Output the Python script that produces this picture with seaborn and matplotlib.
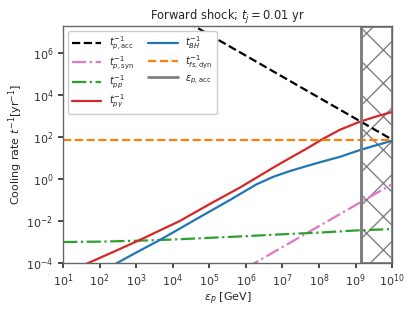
import numpy as np
import pandas as pd
import matplotlib
matplotlib.use("Agg")
import matplotlib.pyplot as plt
import seaborn as sns

# Values (log10 of energy in GeV, log10 of rate in 1/yr)
acc_logE = [1.0, 10.0]
acc_logt = [10.88, 1.88]

syn_logE = [6.0, 10.0]
syn_logt = [-4.24, -0.24]

pp_logE = [1, 2, 3, 4, 5, 6, 7, 8, 9, 10]
pp_logt = [-3.0, -2.98, -2.94, -2.88, -2.80, -2.72, -2.63, -2.55, -2.45, -2.38]

pg_logE = [1.5, 1.69, 2.4, 3.1, 4.2, 5.0, 5.84, 6.3, 6.75, 7.2, 7.66, 8.11, 8.57, 9.11, 9.5, 10]
pg_logt = [-4.15, -4.0, -3.45, -2.90, -1.99, -1.2, -0.40, 0.08, 0.55, 1.0, 1.45, 1.92, 2.35, 2.73, 2.95, 3.2]

bh_logE = [2.3, 3.0, 3.65, 4.2, 4.74, 5.56, 5.84, 6.29, 6.75, 7.2, 7.66, 8.1, 8.57, 9.11, 9.5, 10]
bh_logt = [-4.17, -3.5, -2.90, -2.35, -1.81, -1.0, -0.71, -0.25, 0.11, 0.38, 0.62, 0.84, 1.06, 1.38, 1.58, 1.83]

dyn_logE = [1.0, 10.0]
dyn_logt = [1.86, 1.86]

e_acc = 1.4e9

sns.set_theme(style="ticks")
fs = 8
plt.rcParams.update({
    "font.family": ["DejaVu Sans"],
    "font.size": fs,
    "axes.titlesize": 8.3,
    "axes.labelsize": fs,
    "xtick.labelsize": fs,
    "ytick.labelsize": fs,
    "legend.fontsize": 7,
    "axes.edgecolor": "#666666",
    "axes.linewidth": 1.0,
    "xtick.color": "#333333",
    "ytick.color": "#333333",
    "xtick.major.size": 3.5,
    "ytick.major.size": 3.5,
})


def to_df(logE, logt):
    return pd.DataFrame({"E": 10 ** np.array(logE, dtype=float),
                         "t": 10 ** np.array(logt, dtype=float)})


fig = plt.figure(figsize=(4.15, 3.12), dpi=100)
ax = fig.add_axes([0.152, 0.157, 0.793, 0.760])

lw = 1.6
sns.lineplot(data=to_df(acc_logE, acc_logt), x="E", y="t", ax=ax, color="black",
             linestyle="--", lw=lw, label=r"$t^{-1}_{p,\rm acc}$")
sns.lineplot(data=to_df(syn_logE, syn_logt), x="E", y="t", ax=ax, color="tab:pink",
             linestyle="-.", lw=lw, label=r"$t^{-1}_{p,\rm syn}$")
sns.lineplot(data=to_df(pp_logE, pp_logt), x="E", y="t", ax=ax, color="tab:green",
             linestyle="-.", lw=lw, label=r"$t^{-1}_{pp}$")
sns.lineplot(data=to_df(pg_logE, pg_logt), x="E", y="t", ax=ax, color="tab:red",
             linestyle="-", lw=lw, label=r"$t^{-1}_{p\gamma}$")
sns.lineplot(data=to_df(bh_logE, bh_logt), x="E", y="t", ax=ax, color="tab:blue",
             linestyle="-", lw=lw, label=r"$t^{-1}_{BH}$")
sns.lineplot(data=to_df(dyn_logE, dyn_logt), x="E", y="t", ax=ax, color="tab:orange",
             linestyle="--", lw=lw, label=r"$t^{-1}_{fs,\rm dyn}$")

ax.axvspan(e_acc, 1e10, facecolor="none", edgecolor="gray", hatch="x", lw=2)
ax.axvline(e_acc, color="gray", lw=2, label=r"$\varepsilon_{p,\rm acc}$")

ax.set_xscale("log")
ax.set_yscale("log")
ax.set_xlim(1e1, 1e10)
ax.set_ylim(1e-4, 2e7)
ax.set_xticks([10.0 ** k for k in range(1, 11)])
ax.set_yticks([10.0 ** k for k in range(-4, 7, 2)])
ax.minorticks_off()

ax.set_title(r"Forward shock; $t_j = 0.01$ yr", pad=4)
ax.set_xlabel(r"$\varepsilon_p$ [GeV]", labelpad=1)
ax.set_ylabel(r"Cooling rate $t^{-1} [{\rm yr}^{-1}]$", labelpad=1)

ax.legend(loc="upper left", ncol=2, handlelength=3.0, handletextpad=0.8,
          columnspacing=1.5, labelspacing=0.2, framealpha=1)

fig.savefig("out.png", dpi=100)
